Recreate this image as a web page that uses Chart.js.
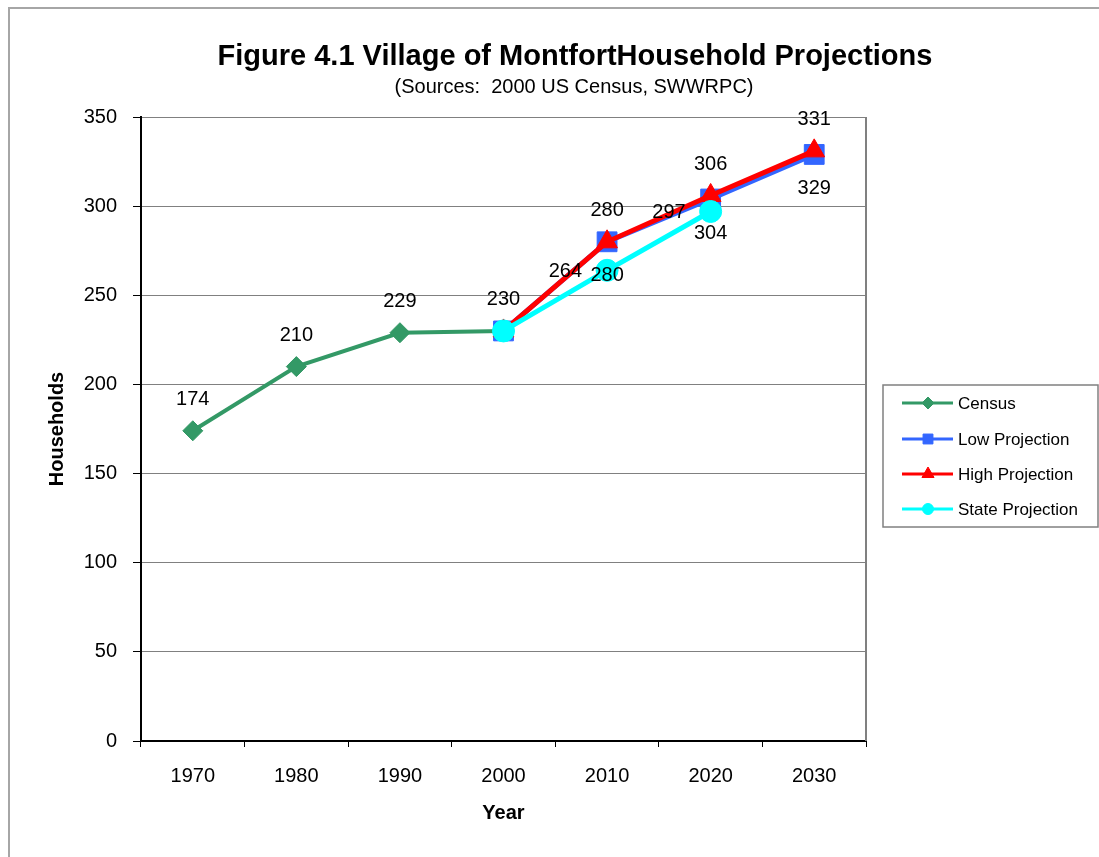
<!DOCTYPE html>
<html>
<head>
<meta charset="utf-8">
<script src="https://cdn.jsdelivr.net/npm/chart.js@4.4.1/dist/chart.umd.min.js"></script>
<style>
  html, body { margin: 0; padding: 0; background: #fff; }
  #wrap { width: 1099px; height: 857px; position: relative; }
</style>
</head>
<body>
<div id="wrap"><canvas id="c" width="1099" height="857"></canvas></div>
<script>
const years = ['1970', '1980', '1990', '2000', '2010', '2020', '2030'];
const census = [174, 210, 229, 230, null, null, null];
const lowProjection = [null, null, null, 230, 280, 304, 329];
const highProjection = [null, null, null, 230, 280, 306, 331];
const stateProjection = [null, null, null, 230, 264, 297, null];
const seriesNames = ['Census', 'Low Projection', 'High Projection', 'State Projection'];
const yTicks = [0, 50, 100, 150, 200, 250, 300, 350];

const FONT = '"Liberation Sans", Arial, Helvetica, sans-serif';

const decor = {
  id: 'decor',
  beforeDraw(chart) {
    const ctx = chart.ctx;
    ctx.save();
    ctx.fillStyle = '#fff';
    ctx.fillRect(0, 0, chart.width, chart.height);
    ctx.strokeStyle = '#a6a6a6';
    ctx.lineWidth = 2;
    ctx.beginPath();
    ctx.moveTo(9, chart.height + 5);
    ctx.lineTo(9, 8);
    ctx.lineTo(chart.width + 5, 8);
    ctx.stroke();
    ctx.restore();
  },
  beforeDatasetsDraw(chart) {
    const ctx = chart.ctx, a = chart.chartArea;
    ctx.save();
    ctx.strokeStyle = '#808080';
    ctx.lineWidth = 2;
    ctx.beginPath();
    ctx.moveTo(a.right, a.top);
    ctx.lineTo(a.right, a.bottom);
    ctx.stroke();
    ctx.restore();
  },
  afterDatasetsDraw(chart) {
    const ctx = chart.ctx;
    ctx.save();
    ctx.font = '20px ' + FONT;
    ctx.fillStyle = '#000';
    chart.data.datasets.forEach((ds, i) => {
      const meta = chart.getDatasetMeta(i);
      meta.data.forEach((pt, j) => {
        const v = ds.data[j];
        if (v === null || v === undefined) return;
        if (ds.labelSkip && ds.labelSkip.includes(j)) return;
        let x = pt.x, y = pt.y;
        if (ds.labelPos === 'top') { ctx.textAlign = 'center'; y -= 31; }
        else if (ds.labelPos === 'bottom') { ctx.textAlign = 'center'; y += 34; }
        else { ctx.textAlign = 'right'; x -= 25; y += 1; }
        ctx.textBaseline = 'middle';
        ctx.fillText(String(v), x, y);
      });
    });
    ctx.restore();
  },
  afterDraw(chart) {
    const ctx = chart.ctx;
    ctx.save();
    // title
    ctx.fillStyle = '#000';
    ctx.textAlign = 'center';
    ctx.textBaseline = 'middle';
    ctx.font = 'bold 29px ' + FONT;
    ctx.fillText('Figure 4.1 Village of MontfortHousehold Projections', 575, 57);
    ctx.font = '20px ' + FONT;
    ctx.fillText('(Sources:  2000 US Census, SWWRPC)', 574, 87);
    // legend
    const lx = 883, ly = 385, lw = 215, lh = 142;
    ctx.strokeStyle = '#808080';
    ctx.lineWidth = 1.5;
    ctx.strokeRect(lx, ly, lw, lh);
    const rows = [403, 439, 474, 509];
    const legendRadius = [6, 7, 7, 5.5];
    chart.data.datasets.forEach((ds, i) => {
      const y = rows[i];
      ctx.strokeStyle = ds.borderColor;
      ctx.lineWidth = 3;
      ctx.beginPath();
      ctx.moveTo(902, y);
      ctx.lineTo(953, y);
      ctx.stroke();
      ctx.fillStyle = ds.borderColor;
      ctx.strokeStyle = ds.borderColor;
      ctx.lineWidth = 1;
      Chart.helpers.drawPoint(ctx, { pointStyle: ds.pointStyle, radius: legendRadius[i], rotation: 0, borderWidth: 1 }, 928, y);
      ctx.fillStyle = '#000';
      ctx.textAlign = 'left';
      ctx.textBaseline = 'middle';
      ctx.font = '17px ' + FONT;
      ctx.fillText(ds.label, 958, y + 1);
    });
    ctx.restore();
  }
};

const ctx = document.getElementById('c').getContext('2d');
new Chart(ctx, {
  type: 'line',
  data: {
    labels: years,
    datasets: [
      {
        label: seriesNames[0], data: census,
        borderColor: '#339966', backgroundColor: '#339966',
        pointBackgroundColor: '#339966', pointBorderColor: '#339966',
        borderWidth: 4, pointStyle: 'rectRot', pointRadius: 10, pointBorderWidth: 1,
        labelPos: 'top', order: 3
      },
      {
        label: seriesNames[1], data: lowProjection,
        borderColor: '#3366FF', backgroundColor: '#3366FF',
        pointBackgroundColor: '#3366FF', pointBorderColor: '#3366FF',
        borderWidth: 5, pointStyle: 'rect', pointRadius: 14, pointBorderWidth: 1,
        labelPos: 'bottom', labelSkip: [3], order: 2
      },
      {
        label: seriesNames[2], data: highProjection,
        borderColor: '#FF0000', backgroundColor: '#FF0000',
        pointBackgroundColor: '#FF0000', pointBorderColor: '#FF0000',
        borderWidth: 5, pointStyle: 'triangle', pointRadius: 12, pointBorderWidth: 1,
        labelPos: 'top', labelSkip: [3], order: 1
      },
      {
        label: seriesNames[3], data: stateProjection,
        borderColor: '#00FFFF', backgroundColor: '#00FFFF',
        pointBackgroundColor: '#00FFFF', pointBorderColor: '#00FFFF',
        borderWidth: 5, pointStyle: 'circle', pointRadius: 11, pointBorderWidth: 1,
        labelPos: 'left', labelSkip: [3], order: 0
      }
    ]
  },
  options: {
    responsive: false,
    animation: false,
    events: [],
    spanGaps: false,
    layout: { padding: { left: 0, top: 117, right: 233, bottom: 0 } },
    plugins: {
      legend: { display: false },
      title: { display: false },
      tooltip: { enabled: false }
    },
    scales: {
      x: {
        type: 'category',
        offset: true,
        grid: { offset: true, drawOnChartArea: false, color: '#000', tickColor: '#000', tickLength: 6, lineWidth: 1 },
        border: { color: '#000', width: 2 },
        ticks: { color: '#000', font: { family: FONT, size: 20 }, padding: 17, maxRotation: 0 },
        title: { display: true, text: 'Year', color: '#000', font: { family: FONT, size: 20, weight: 'bold' }, padding: { top: 0, bottom: 32 } },
        afterFit(s) { s.height = 116; }
      },
      y: {
        min: 0, max: 350,
        afterBuildTicks(s) { s.ticks = yTicks.map(v => ({ value: v })); },
        grid: { color: '#808080', tickColor: '#000', tickLength: 8, lineWidth: 1 },
        border: { color: '#000', width: 2 },
        ticks: { color: '#000', font: { family: FONT, size: 20 }, padding: 16 },
        title: { display: true, text: 'Households', color: '#000', font: { family: FONT, size: 20, weight: 'bold' }, padding: { top: 45, bottom: 0 } },
        afterFit(s) { s.width = 141; }
      }
    }
  },
  plugins: [decor]
});
</script>
</body>
</html>
